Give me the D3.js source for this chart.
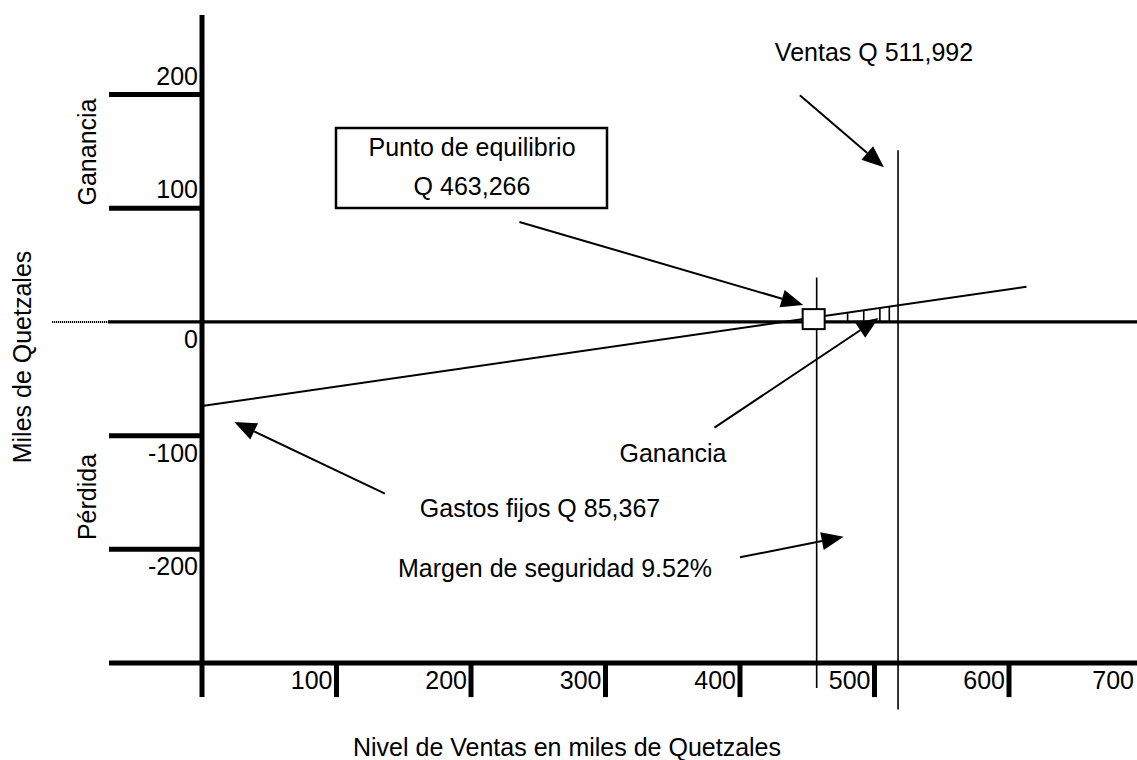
<!DOCTYPE html>
<html>
<head>
<meta charset="utf-8">
<script src="https://cdn.jsdelivr.net/npm/d3@7"></script>
<style>
  html, body { margin: 0; padding: 0; background: #fff; }
  svg { display: block; font-family: "Liberation Sans", Arial, sans-serif; }
</style>
</head>
<body>
<svg id="chart" width="1137" height="760"></svg>
<script>
// ---------------- data ----------------
const xTickValues = [100, 200, 300, 400, 500, 600, 700];
const xTickLabels = ["100", "200", "300", "400", "500", "600", "700"];
const yTickValues = [200, 100, 0, -100, -200];
const yTickLabels = ["200", "100", "0", "-100", "-200"];

// profit/loss line (thousands of Quetzales): sales level -> result
const profitX = [0, 613];
const profitY = [-74, 31];

const breakEvenSales = 457;   // drawn position of the break-even line
const actualSales = 517.5;    // drawn position of the sales line
const hatchX = [480, 492, 504, 511];

const textBreakEven = ["Punto de equilibrio", "Q 463,266"];
const textSales = "Ventas Q 511,992";
const textFixed = "Gastos fijos Q 85,367";
const textMargin = "Margen de seguridad 9.52%";
const textProfit = "Ganancia";
const yLabelTop = "Ganancia";
const yLabelBottom = "Pérdida";
const yTitle = "Miles de Quetzales";
const xTitle = "Nivel de Ventas en miles de Quetzales";

// annotation arrows in data units: [tailX, tailY, tipX, tipY]
const arrowBox    = [236, 88, 447, 15];
const arrowSales  = [444.5, 199.5, 507, 136];
const arrowProfit = [381, -93, 503, 3.5];
const arrowFixed  = [136, -151, 24, -88];
const arrowMargin = [400, -207, 477, -189];

// ---------------- drawing ----------------
const svg = d3.select("#chart");
const x = d3.scaleLinear().domain([0, 700]).range([202, 1143.5]);
const y = d3.scaleLinear().domain([-300, 200]).range([663, 94.6]);
const FS = 25;

const g = svg.append("g");

// Y axis main line
g.append("line").attr("x1", x(0)).attr("x2", x(0))
  .attr("y1", y(270)).attr("y2", y(-330))
  .attr("stroke", "#000").attr("stroke-width", 5);

// Y tick marks (except 0)
yTickValues.filter(v => v !== 0).forEach(v => {
  g.append("line").attr("x1", 109).attr("x2", x(0))
    .attr("y1", y(v)).attr("y2", y(v))
    .attr("stroke", "#000").attr("stroke-width", 5);
});

// Y tick labels: above for positives, below for zero/negatives
yTickValues.forEach((v, i) => {
  g.append("text")
    .attr("x", x(0) - 4)
    .attr("y", v > 0 ? y(v) - 10 : y(v) + 26)
    .attr("text-anchor", "end")
    .attr("font-size", FS)
    .text(yTickLabels[i]);
});

// zero line: dotted stub + solid
g.append("line").attr("x1", 52).attr("x2", 109)
  .attr("y1", y(0)).attr("y2", y(0))
  .attr("stroke", "#000").attr("stroke-width", 2).attr("stroke-dasharray", "1.2,0.8");
g.append("line").attr("x1", 108).attr("x2", 1137)
  .attr("y1", y(0)).attr("y2", y(0))
  .attr("stroke", "#000").attr("stroke-width", 3.2);

// bottom axis (at -300)
g.append("line").attr("x1", 109).attr("x2", 1137)
  .attr("y1", y(-300)).attr("y2", y(-300))
  .attr("stroke", "#000").attr("stroke-width", 5);

xTickValues.forEach((v, i) => {
  g.append("line").attr("x1", x(v)).attr("x2", x(v))
    .attr("y1", y(-300)).attr("y2", y(-330))
    .attr("stroke", "#000").attr("stroke-width", 5);
  g.append("text")
    .attr("x", Math.min(x(v) - 4, 1134))
    .attr("y", y(-300) + 26)
    .attr("text-anchor", "end")
    .attr("font-size", FS)
    .text(xTickLabels[i]);
});

// vertical reference lines
g.append("line").attr("x1", x(breakEvenSales)).attr("x2", x(breakEvenSales))
  .attr("y1", y(39)).attr("y2", y(-322))
  .attr("stroke", "#000").attr("stroke-width", 1.6);
g.append("line").attr("x1", x(actualSales)).attr("x2", x(actualSales))
  .attr("y1", y(151)).attr("y2", y(-341))
  .attr("stroke", "#000").attr("stroke-width", 1.6);

// profit line
const lineGen = d3.line().x(d => x(d[0])).y(d => y(d[1]));
g.append("path").datum(profitX.map((v, i) => [v, profitY[i]]))
  .attr("d", lineGen).attr("fill", "none")
  .attr("stroke", "#000").attr("stroke-width", 2);

const slope = (profitY[1] - profitY[0]) / (profitX[1] - profitX[0]);
const profitAt = v => profitY[0] + slope * (v - profitX[0]);

// hatch lines in the profit area
hatchX.forEach(v => {
  g.append("line").attr("x1", x(v)).attr("x2", x(v))
    .attr("y1", y(0)).attr("y2", y(profitAt(v)))
    .attr("stroke", "#000").attr("stroke-width", 1.6);
});

// break-even square marker
g.append("rect")
  .attr("x", x(breakEvenSales) - 14).attr("y", y(2.5) - 10)
  .attr("width", 22).attr("height", 20)
  .attr("fill", "#fff").attr("stroke", "#000").attr("stroke-width", 2);

// arrows
function arrow(a) {
  const x1 = x(a[0]), y1 = y(a[1]), x2 = x(a[2]), y2 = y(a[3]);
  const dx = x2 - x1, dy = y2 - y1, L = Math.hypot(dx, dy);
  const ux = dx / L, uy = dy / L;
  const hl = 22, hw = 9;
  const bx = x2 - ux * hl, by = y2 - uy * hl;
  g.append("line").attr("x1", x1).attr("y1", y1).attr("x2", bx).attr("y2", by)
    .attr("stroke", "#000").attr("stroke-width", 2);
  g.append("polygon")
    .attr("points", [[x2, y2], [bx - uy * hw, by + ux * hw], [bx + uy * hw, by - ux * hw]].map(p => p.join(",")).join(" "))
    .attr("fill", "#000");
}
[arrowBox, arrowSales, arrowProfit, arrowFixed, arrowMargin].forEach(arrow);

// break-even box
g.append("rect").attr("x", 336).attr("y", 128).attr("width", 271).attr("height", 80)
  .attr("fill", "#fff").attr("stroke", "#000").attr("stroke-width", 2.5);
g.append("text").attr("x", 472).attr("y", 156).attr("text-anchor", "middle")
  .attr("font-size", FS).text(textBreakEven[0]);
g.append("text").attr("x", 472).attr("y", 195).attr("text-anchor", "middle")
  .attr("font-size", FS).text(textBreakEven[1]);

// annotation texts
g.append("text").attr("x", 874).attr("y", 61).attr("text-anchor", "middle")
  .attr("font-size", FS).text(textSales);
g.append("text").attr("x", 673).attr("y", 462).attr("text-anchor", "middle")
  .attr("font-size", FS).text(textProfit);
g.append("text").attr("x", 540).attr("y", 517).attr("text-anchor", "middle")
  .attr("font-size", FS).text(textFixed);
g.append("text").attr("x", 555).attr("y", 577).attr("text-anchor", "middle")
  .attr("font-size", FS).text(textMargin);

// axis titles
g.append("text").attr("x", 567).attr("y", 756).attr("text-anchor", "middle")
  .attr("font-size", FS).text(xTitle);
g.append("text").attr("transform", "translate(31,357) rotate(-90)")
  .attr("text-anchor", "middle").attr("font-size", FS).text(yTitle);
g.append("text").attr("transform", "translate(96,152) rotate(-90)")
  .attr("text-anchor", "middle").attr("font-size", FS).text(yLabelTop);
g.append("text").attr("transform", "translate(96,497) rotate(-90)")
  .attr("text-anchor", "middle").attr("font-size", FS).text(yLabelBottom);
</script>
</body>
</html>
